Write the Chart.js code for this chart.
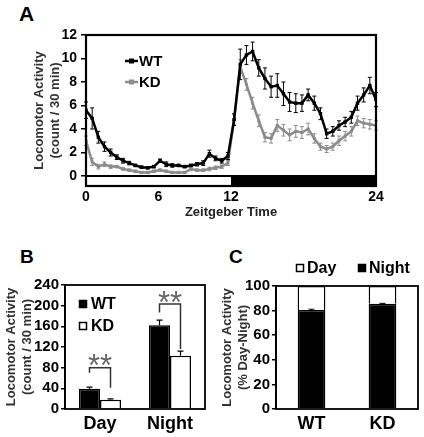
<!DOCTYPE html>
<html><head><meta charset="utf-8">
<script src="https://cdn.jsdelivr.net/npm/chart.js@4"></script>
<style>
html,body{margin:0;padding:0;background:#fff;}
body{width:424px;height:437px;position:relative;overflow:hidden;font-family:"Liberation Sans",Arial,sans-serif;}
.panel{position:absolute;}
.panel canvas{display:block;}
.lab{position:absolute;font-weight:bold;color:#000;line-height:1;}
</style></head><body>
<div class="lab" style="left:19px;top:3px;font-size:21px">A</div>
<div class="lab" style="left:20px;top:247px;font-size:19px">B</div>
<div class="lab" style="left:229px;top:247px;font-size:19px">C</div>
<div class="panel" style="left:0;top:0;"><canvas id="cA" width="424" height="220"></canvas></div>
<div class="panel" style="left:0;top:225px;"><canvas id="cB" width="210" height="212"></canvas></div>
<div class="panel" style="left:210px;top:225px;"><canvas id="cC" width="214" height="212"></canvas></div>
<script>
// ---------- Panel A data (48 half-hour bins over 24 h) ----------
const seriesA = ['WT', 'KD'];
const wtMean = [5.6,4.9,3.3,2.5,2.0,1.6,1.3,1.1,0.9,0.75,0.7,0.8,1.3,1.0,0.9,0.9,0.8,0.9,1.0,1.1,1.9,1.5,1.3,1.7,
                4.8,9.5,10.3,10.6,9.2,8.3,7.6,7.7,7.0,6.3,6.2,6.2,6.9,6.2,5.3,3.6,3.8,4.3,4.6,5.0,6.2,6.9,7.7,6.5];
const wtErr  = [0.7,0.9,0.5,0.4,0.3,0.2,0.2,0.15,0.1,0.1,0.1,0.1,0.15,0.2,0.15,0.1,0.1,0.1,0.15,0.2,0.3,0.2,0.2,0.3,
                0.5,1.3,0.8,0.8,0.7,0.9,0.9,1.0,1.0,0.8,0.8,0.7,0.5,0.6,0.5,0.4,0.4,0.4,0.4,0.5,0.6,0.6,0.7,0.6];
const kdMean = [3.0,1.2,0.8,1.0,0.8,0.8,0.6,0.5,0.4,0.3,0.3,0.4,0.5,0.4,0.3,0.3,0.3,0.6,0.5,0.5,0.6,0.7,0.8,1.1,
                4.8,9.3,7.8,6.2,4.7,3.3,3.2,4.3,3.9,3.5,3.8,3.7,4.0,3.2,2.5,2.3,2.5,3.0,3.4,3.8,4.7,4.5,4.4,4.3];
const kdErr  = [0.4,0.3,0.2,0.2,0.15,0.1,0.1,0.1,0.1,0.1,0.1,0.1,0.1,0.1,0.1,0.1,0.1,0.15,0.1,0.1,0.15,0.15,0.15,0.2,
                0.4,0.6,0.5,0.5,0.5,0.4,0.4,0.5,0.5,0.5,0.5,0.5,0.5,0.4,0.3,0.3,0.3,0.4,0.4,0.4,0.4,0.4,0.4,0.4];
const hourTicks = [0, 6, 12, 24];
const yTicksA = [0, 2, 4, 6, 8, 10, 12];
const ldPhases = [{from: 0, to: 12, dark: false}, {from: 12, to: 24, dark: true}];

// ---------- Panel B data ----------
const catsB = ['Day', 'Night'];
const wtB = [39, 162];
const wtBErr = [3.5, 10];
const kdB = [18, 103];
const kdBErr = [1.5, 9];
const yTicksB = [0, 40, 80, 120, 160, 200, 240];
const sigB = [ // bracket levels in data units
  {cat: 0, top: 80, leftEnd: 70, rightEnd: 41, mark: '**', markY: 99},
  {cat: 1, top: 203, leftEnd: 187, rightEnd: 116, mark: '**', markY: 220}
];

// ---------- Panel C data ----------
const catsC = ['WT', 'KD'];
const nightC = [80.5, 85.5];
const nightCErr = [0.6, 0.4];
const dayC = [19.5, 14.5];
const yTicksC = [0, 20, 40, 60, 80, 100];

const FONT = '"Liberation Sans", Arial, sans-serif';
Chart.defaults.font.family = FONT;
Chart.defaults.color = '#000';

const GRAY = '#8c8c8c';
const nA = wtMean.length;
const hIdx = h => h * (nA - 1) / 24;

// ---- shared plugins ----
const framePlugin = {
  id: 'frame',
  afterDraw(chart, args, opts) {
    const {ctx, chartArea: a} = chart;
    ctx.save();
    ctx.strokeStyle = '#000';
    ctx.lineWidth = opts.width || 2;
    ctx.strokeRect(a.left, a.top, a.right - a.left, a.bottom - a.top);
    ctx.restore();
  }
};
const errPlugin = {
  id: 'errbars',
  afterDatasetDraw(chart, args) {
    const ds = chart.data.datasets[args.index];
    if (!ds.errBar) return;
    const meta = args.meta, ctx = chart.ctx;
    const ys = chart.scales[meta.yAxisID];
    const eb = ds.errBar;
    ctx.save();
    ctx.strokeStyle = eb.color;
    ctx.lineWidth = eb.width || 1;
    meta.data.forEach((el, i) => {
      const v = meta.controller.getParsed(i).y;
      const e = eb.values[i];
      const x = el.x;
      const yHi = ys.getPixelForValue(v + e);
      const yLo = eb.up ? el.y : ys.getPixelForValue(v - e);
      ctx.beginPath();
      ctx.moveTo(x, yLo); ctx.lineTo(x, yHi);
      ctx.moveTo(x - eb.cap, yHi); ctx.lineTo(x + eb.cap, yHi);
      if (!eb.up) { ctx.moveTo(x - eb.cap, yLo); ctx.lineTo(x + eb.cap, yLo); }
      ctx.stroke();
    });
    ctx.restore();
  }
};
const fixedTicks = arr => s => { s.ticks = arr.map(v => ({value: v})); };

// ---- Panel A ----
const ldPlugin = {
  id: 'ld',
  beforeDatasetsDraw(chart) {
    const {ctx, chartArea: a, scales: {x, y}} = chart;
    const y0 = y.getPixelForValue(0), yb = a.bottom;
    ctx.save();
    ldPhases.forEach(p => {
      const x0 = x.getPixelForValue(hIdx(p.from)), x1 = x.getPixelForValue(hIdx(p.to));
      ctx.fillStyle = p.dark ? '#000' : '#fff';
      ctx.fillRect(x0, y0, x1 - x0, yb - y0);
    });
    ctx.strokeStyle = '#000'; ctx.lineWidth = 2;
    ctx.beginPath(); ctx.moveTo(a.left, y0); ctx.lineTo(a.right, y0); ctx.stroke();
    ctx.restore();
  }
};
const legendA = {
  id: 'legendA',
  afterDraw(chart) {
    const {ctx, chartArea: a} = chart;
    ctx.save();
    chart.data.datasets.forEach((ds, k) => {
      const y = a.top + 26 + k * 21;
      ctx.strokeStyle = ds.borderColor; ctx.fillStyle = ds.borderColor; ctx.lineWidth = 2.5;
      ctx.beginPath(); ctx.moveTo(a.left + 39, y); ctx.lineTo(a.left + 52, y); ctx.stroke();
      ctx.fillRect(a.left + 43, y - 2.5, 5, 5);
      ctx.fillStyle = '#000';
      ctx.font = 'bold 15px ' + FONT;
      ctx.textBaseline = 'middle';
      ctx.fillText(ds.label, a.left + 53, y + 0.5);
    });
    ctx.restore();
  }
};

new Chart(document.getElementById('cA'), {
  type: 'line',
  data: {
    datasets: [
      {label: seriesA[0], data: wtMean.map((v, i) => ({x: i, y: v})), borderColor: '#000', backgroundColor: '#000',
       borderWidth: 2.5, pointStyle: 'rect', pointRadius: 2.4, pointBorderWidth: 0, tension: 0,
       errBar: {values: wtErr, color: '#000', cap: 2, width: 1}},
      {label: seriesA[1], data: kdMean.map((v, i) => ({x: i, y: v})), borderColor: GRAY, backgroundColor: GRAY,
       borderWidth: 2.5, pointStyle: 'rect', pointRadius: 2.1, pointBorderWidth: 0, tension: 0,
       errBar: {values: kdErr, color: GRAY, cap: 2, width: 1}}
    ]
  },
  options: {
    responsive: false, animation: false, events: [],
    layout: {padding: {left: 32, top: 35, right: 48, bottom: 0}},
    plugins: {legend: {display: false}, tooltip: {enabled: false}, frame: {width: 2.2}},
    scales: {
      x: {
        type: 'linear', min: 0, max: nA - 1,
        afterBuildTicks: s => { s.ticks = hourTicks.map(h => ({value: hIdx(h)})); },
        ticks: {callback: (v, i) => String(hourTicks[i]), font: {size: 14, weight: 'bold'}, color: '#000',
                padding: 3, maxRotation: 0, autoSkip: false},
        grid: {display: false, drawTicks: false},
        border: {display: false},
        title: {display: true, text: 'Zeitgeber Time', font: {size: 13, weight: 'bold'}, color: '#222', padding: 0},
        afterFit: s => { s.height = 34; }
      },
      y: {
        min: -0.85, max: 12,
        afterBuildTicks: fixedTicks(yTicksA),
        ticks: {font: {size: 14, weight: 'bold'}, color: '#000', padding: 4, autoSkip: false},
        grid: {display: true, drawOnChartArea: false, drawTicks: true, tickLength: 5, color: '#000', lineWidth: 1.5},
        border: {display: true, color: '#000', width: 2},
        title: {display: true, text: ['Locomotor Activity', '(count / 30 min)'], font: {size: 13, weight: 'bold', lineHeight: 1.2}, color: '#333', padding: 0},
        afterFit: s => { s.width = 54; }
      }
    }
  },
  plugins: [ldPlugin, errPlugin, framePlugin, legendA]
});

// ---- Panel B ----
const legendB = {
  id: 'legendB',
  afterDraw(chart) {
    const {ctx, chartArea: a} = chart;
    ctx.save();
    chart.data.datasets.forEach((ds, k) => {
      const y = a.top + 19 + k * 22;
      const x = a.left + 14;
      ctx.fillStyle = ds.backgroundColor; ctx.fillRect(x, y - 4, 8, 8);
      ctx.strokeStyle = '#000'; ctx.lineWidth = 1.5; ctx.strokeRect(x + 0.5, y - 3.5, 7, 7);
      ctx.fillStyle = '#000'; ctx.font = 'bold 16px ' + FONT; ctx.textBaseline = 'middle';
      ctx.fillText(ds.label, x + 12, y + 0.5);
    });
    ctx.restore();
  }
};
const sigPlugin = {
  id: 'sig',
  afterDatasetsDraw(chart) {
    const {ctx, scales: {y}} = chart;
    const m0 = chart.getDatasetMeta(0), m1 = chart.getDatasetMeta(1);
    ctx.save();
    sigB.forEach(s => {
      const xl = m0.data[s.cat].x, xr = m1.data[s.cat].x;
      const yt = y.getPixelForValue(s.top);
      ctx.strokeStyle = '#333'; ctx.lineWidth = 1.5;
      ctx.beginPath();
      ctx.moveTo(xl, y.getPixelForValue(s.leftEnd)); ctx.lineTo(xl, yt);
      ctx.lineTo(xr, yt); ctx.lineTo(xr, y.getPixelForValue(s.rightEnd));
      ctx.stroke();
      ctx.fillStyle = '#666'; ctx.font = '31px ' + FONT; ctx.textAlign = 'center'; ctx.textBaseline = 'alphabetic';
      ctx.fillText(s.mark, (xl + xr) / 2, y.getPixelForValue(s.markY) + 18);
    });
    ctx.restore();
  }
};

new Chart(document.getElementById('cB'), {
  type: 'bar',
  data: {
    labels: catsB,
    datasets: [
      {label: 'WT', data: wtB, backgroundColor: '#000', borderColor: '#000', borderWidth: 1.5,
       categoryPercentage: 0.6, barPercentage: 1.0, errBar: {values: wtBErr, color: '#000', cap: 3, width: 1.2, up: true}},
      {label: 'KD', data: kdB, backgroundColor: '#fff', borderColor: '#000', borderWidth: 1.5,
       categoryPercentage: 0.6, barPercentage: 1.0, errBar: {values: kdBErr, color: '#000', cap: 3, width: 1.2, up: true}}
    ]
  },
  options: {
    responsive: false, animation: false, events: [],
    layout: {padding: {left: 4, top: 60, right: 5, bottom: 0}},
    plugins: {legend: {display: false}, tooltip: {enabled: false}, frame: {width: 1.8}},
    scales: {
      x: {
        ticks: {font: {size: 18, weight: 'bold'}, color: '#000', padding: 4},
        grid: {display: false, drawTicks: false}, border: {display: false},
        afterFit: s => { s.height = 28; }
      },
      y: {
        min: 0, max: 240,
        afterBuildTicks: fixedTicks(yTicksB),
        ticks: {font: {size: 15, weight: 'bold'}, color: '#000', padding: 2, autoSkip: false},
        grid: {display: true, drawOnChartArea: false, drawTicks: true, tickLength: 4, color: '#000', lineWidth: 1.5},
        border: {display: true, color: '#000', width: 1.8},
        title: {display: true, text: ['Locomotor Activity', '(count / 30 min)'], font: {size: 13, weight: 'bold'}, color: '#333', padding: 0},
        afterFit: s => { s.width = 61; }
      }
    }
  },
  plugins: [errPlugin, sigPlugin, framePlugin, legendB]
});

// ---- Panel C ----
const legendC = {
  id: 'legendC',
  afterDraw(chart) {
    const {ctx, chartArea: a} = chart;
    const items = [chart.data.datasets[1], chart.data.datasets[0]]; // Day, Night
    const xs = [a.left + 20, a.left + 82];
    ctx.save();
    items.forEach((ds, k) => {
      const y = a.top - 18, x = xs[k];
      ctx.fillStyle = ds.backgroundColor; ctx.fillRect(x, y - 4, 8, 8);
      ctx.strokeStyle = '#000'; ctx.lineWidth = 1.5; ctx.strokeRect(x + 0.5, y - 3.5, 7, 7);
      ctx.fillStyle = '#000'; ctx.font = 'bold 16px ' + FONT; ctx.textBaseline = 'middle';
      ctx.fillText(ds.label, x + 11, y + 0.5);
    });
    ctx.restore();
  }
};

new Chart(document.getElementById('cC'), {
  type: 'bar',
  data: {
    labels: catsC,
    datasets: [
      {label: 'Night', data: nightC, backgroundColor: '#000', borderColor: '#000', borderWidth: 1.5,
       categoryPercentage: 0.39, barPercentage: 1.0, errBar: {values: nightCErr, color: '#000', cap: 3, width: 1}},
      {label: 'Day', data: dayC, backgroundColor: '#fff', borderColor: '#000', borderWidth: 1.5,
       categoryPercentage: 0.39, barPercentage: 1.0}
    ]
  },
  options: {
    responsive: false, animation: false, events: [],
    layout: {padding: {left: 10, top: 61, right: 6, bottom: 0}},
    plugins: {legend: {display: false}, tooltip: {enabled: false}, frame: {width: 1.8}},
    scales: {
      x: {
        stacked: true,
        ticks: {font: {size: 18, weight: 'bold'}, color: '#000', padding: 4},
        grid: {display: false, drawTicks: false}, border: {display: false},
        afterFit: s => { s.height = 28; }
      },
      y: {
        stacked: true, min: 0, max: 100,
        afterBuildTicks: fixedTicks(yTicksC),
        ticks: {font: {size: 15, weight: 'bold'}, color: '#000', padding: 2, autoSkip: false},
        grid: {display: true, drawOnChartArea: false, drawTicks: true, tickLength: 4, color: '#000', lineWidth: 1.5},
        border: {display: true, color: '#000', width: 1.8},
        title: {display: true, text: ['Locomotor Activity', '(% Day-Night)'], font: {size: 13, weight: 'bold'}, color: '#333', padding: 0},
        afterFit: s => { s.width = 56; }
      }
    }
  },
  plugins: [errPlugin, framePlugin, legendC]
});
</script>
</body></html>
